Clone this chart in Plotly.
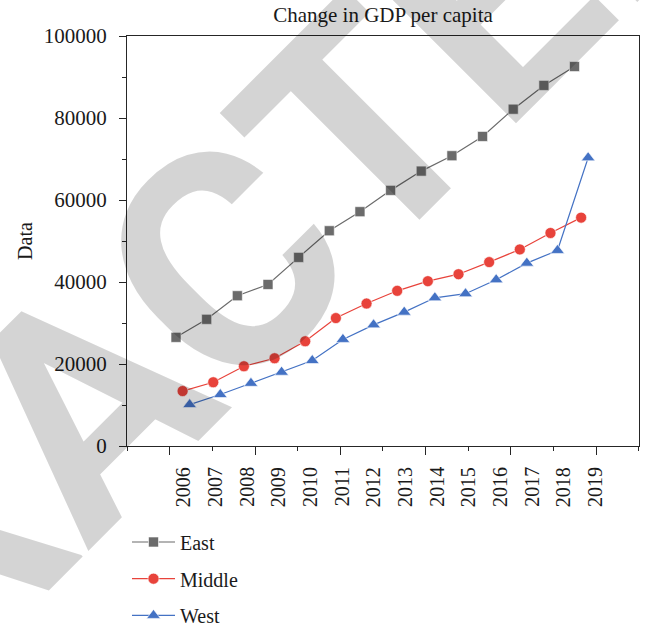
import plotly.graph_objects as go

# Per-capita GDP by region, 2006-2019
years = list(range(2006, 2020))
year_labels = [str(y) for y in years]
east = [26500, 30900, 36650, 39400, 46000, 52500, 57150, 62350, 67050, 70800, 75500, 82150, 87950, 92550]
middle = [13400, 15550, 19450, 21400, 25550, 31200, 34750, 37850, 40200, 41900, 44850, 47950, 51950, 55700]
west = [10100, 12550, 15300, 18000, 20850, 26000, 29550, 32650, 36150, 37150, 40550, 44600, 47700, 70300]

# series are staggered slightly along x so markers do not overlap
series = [
    ("East", east, 0.0, "#6b6b6b", "square", 10),
    ("Middle", middle, 0.215, "#e8433b", "circle", 11),
    ("West", west, 0.444, "#4472c4", "triangle-up", 12),
]

SERIF = "Liberation Serif"
AXIS_COLOR = "#262626"
TEXT_COLOR = "#1a1a1a"

W, H = 649, 632
M_L, M_R, M_T, M_B = 127, 10, 36, 186
plot_w = W - M_L - M_R
plot_h = H - M_T - M_B

fig = go.Figure()
for name, vals, shift, color, symbol, size in series:
    fig.add_trace(go.Scatter(
        x=[y + shift for y in years], y=vals, name=name,
        mode="lines+markers",
        line=dict(color=color, width=1.2),
        marker=dict(color=color, symbol=symbol, size=size,
                    line=dict(color="white", width=0.6)),
        legendgroup=name,
    ))

X_RANGE = [2004.401, 2021.103]
TICK_STEP = 1.3918  # spacing of the bottom tick marks, in x units

fig.update_layout(
    width=W, height=H,
    margin=dict(l=M_L, r=M_R, t=M_T, b=M_B, autoexpand=False),
    paper_bgcolor="white", plot_bgcolor="white",
    font=dict(family=SERIF, size=20, color=TEXT_COLOR),
    title=dict(text="Change in GDP per capita", x=0.5, xref="paper",
               y=1 - 15 / H, yanchor="middle", xanchor="center",
               font=dict(family=SERIF, size=21, color=TEXT_COLOR)),
    xaxis=dict(range=X_RANGE, showgrid=False, zeroline=False,
               showline=True, linecolor=AXIS_COLOR, linewidth=1, mirror=True,
               ticks="outside", tick0=X_RANGE[0] + TICK_STEP, dtick=2 * TICK_STEP,
               ticklen=8, tickwidth=1, tickcolor=AXIS_COLOR,
               showticklabels=False,
               minor=dict(tick0=X_RANGE[0], dtick=TICK_STEP, ticks="outside",
                          ticklen=4, tickwidth=1, tickcolor=AXIS_COLOR)),
    yaxis=dict(range=[0, 100000], showgrid=False, zeroline=False,
               showline=True, linecolor=AXIS_COLOR, linewidth=1, mirror=True,
               ticks="outside", dtick=20000, ticklen=7, tickwidth=1,
               tickcolor=AXIS_COLOR, tickformat="d", ticklabelstandoff=8,
               tickfont=dict(family=SERIF, size=21, color=TEXT_COLOR),
               minor=dict(dtick=10000, ticks="outside", ticklen=4, tickwidth=1,
                          tickcolor=AXIS_COLOR),
               title=dict(text="Data", standoff=5,
                          font=dict(family=SERIF, size=20, color=TEXT_COLOR))),
    showlegend=True,
    legend=dict(x=0.0, xanchor="left", y=-(522.5 - (H - M_B)) / plot_h,
                yanchor="top", orientation="v", itemwidth=43,
                tracegroupgap=7.7, bgcolor="rgba(0,0,0,0)",
                font=dict(family=SERIF, size=20, color=TEXT_COLOR)),
)

# rotated year labels under the axis, on their own even spacing
label_x0 = (183.3 - M_L) / plot_w
label_step = 31.67 / plot_w
for i, lab in enumerate(year_labels):
    fig.add_annotation(
        text=lab, xref="paper", yref="paper",
        x=label_x0 + i * label_step, y=0, yshift=-19,
        xanchor="center", yanchor="top", showarrow=False, textangle=-90,
        font=dict(family=SERIF, size=20, color=TEXT_COLOR),
    )

# diagonal stamp across the figure
fig.add_annotation(
    text="RETRACTED", xref="paper", yref="paper", x=-0.082, y=0.0961,
    xanchor="center", yanchor="middle", showarrow=False, textangle=-45,
    font=dict(family="Roboto", size=305, color="rgba(0,0,0,0.17)",
              weight="bold"),
)

fig.write_html("out.html")
